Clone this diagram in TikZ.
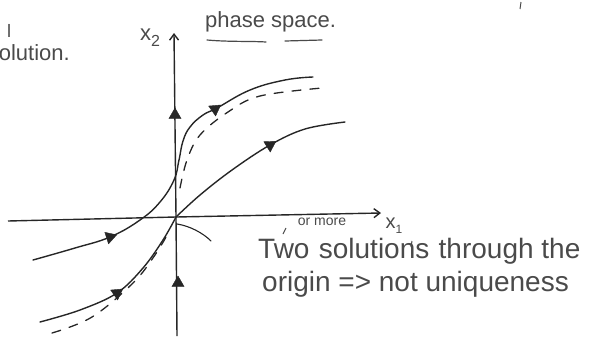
\documentclass[tikz,border=0pt]{standalone}
\usepackage{fontspec}
\setmainfont{Liberation Sans}
\usetikzlibrary{shapes.geometric,arrows.meta}
\definecolor{ink}{HTML}{262626}
\definecolor{pencil}{HTML}{4A4A4A}
\tikzset{
  curve/.style={draw=ink, line width=1.4pt, line cap=round},
  dashcurve/.style={draw=ink, line width=1.3pt, dash pattern=on 9pt off 9pt, line cap=round},
  tri/.style={regular polygon, regular polygon sides=3, fill=ink, draw=ink, inner sep=0pt, minimum size=14pt},
  hand/.style={text=pencil, inner sep=0pt, font=\fontsize{28}{32}\selectfont},
  small/.style={text=pencil, inner sep=0pt, font=\fontsize{22}{26}\selectfont},
  axis/.style={draw=ink, line width=1.4pt, -{Straight Barb[length=6pt,width=9pt]}}
}
\begin{document}
\begin{tikzpicture}[x=1pt,y=-1pt]
\useasboundingbox (0,0) rectangle (605,338);
% axes
\coordinate (O) at (176,217);
\coordinate (yb) at (177,336);
\coordinate (yt) at (174,33);
\coordinate (xl) at (8,221);
\coordinate (xr) at (381,213);
\draw[axis] (yb) -- (O) -- (yt);
\draw[axis] (xl) -- (O) -- (xr);
% labels of axes
\node[small] (x2) at (150,38) {x\raisebox{-6pt}{\fontsize{16}{16}\selectfont 2}};
\node[small, font=\fontsize{20}{22}\selectfont] (x1) at (394,226) {x\raisebox{-5pt}{\fontsize{12}{12}\selectfont 1}};
% phase space
\node[small, anchor=west] (ps) at (205,22) {phase space.};
\draw[draw=pencil, line width=1.2pt, line cap=round] (207,40) .. controls (230,42) and (250,41) .. (266,42);
\draw[draw=pencil, line width=1.2pt, line cap=round] (285,41) -- (322,40);
% cropped left text
\node[small, anchor=east] (sol) at (70,53) {solution.};
\node[small, font=\fontsize{18}{20}\selectfont] (ll) at (9,31) {l};
\draw[draw=pencil, line width=1pt] (521,2) -- (520,9);
% upper solid curve
\draw[curve] plot[smooth, tension=0.7] coordinates {(33,260) (75,248) (110,237) (140,220) (160,202) (174,180) (179,160) (183,141) (190,127) (203,115) (217,108) (250,90) (285,80) (313,77)};
% right curve from origin
\draw[curve] plot[smooth, tension=0.6] coordinates {(O) (200,195) (232,170) (270,145) (305,129) (345,122)};
% lower-left curve to origin
\draw[curve] plot[smooth, tension=0.6] coordinates {(40,322) (80,310) (117,293) (143,268) (163,240) (O)};
% dashed curves
\draw[dashcurve] plot[smooth, tension=0.6] coordinates {(180,188) (187,160) (200,135) (228,112) (260,96) (322,88)};
\draw[dashcurve] plot[smooth, tension=0.6] coordinates {(52,333) (92,317) (133,283) (155,255) (170,230)};
% arrow triangles
\node[tri, rotate=-72] (t1) at (110,237) {};
\node[tri, rotate=-55] (t2) at (215,109) {};
\node[tri] (t3) at (175,115) {};
\node[tri] (t4) at (178,283) {};
\node[tri, rotate=-58] (t5) at (270,145) {};
\node[tri, rotate=-55] (t6) at (117,293) {};
% pointer arc near origin
\draw[draw=ink, line width=1.1pt, line cap=round] (177,224) .. controls (190,226) and (203,233) .. (211,241);
% annotation
\node[text=pencil, inner sep=0pt, font=\fontsize{14}{15}\selectfont] (om) at (322,222) {or more};
\node[hand, anchor=west] (l1) at (258,251) {Two\,\,solutions\,\,through the};
\node[hand, anchor=west] (l2) at (262,284) {origin => not uniqueness};
\draw[draw=pencil, line width=1pt] (283,234) -- (286,228);
\draw[draw=pencil, line width=1pt] (411,247) -- (412,241);
\end{tikzpicture}
\end{document}
